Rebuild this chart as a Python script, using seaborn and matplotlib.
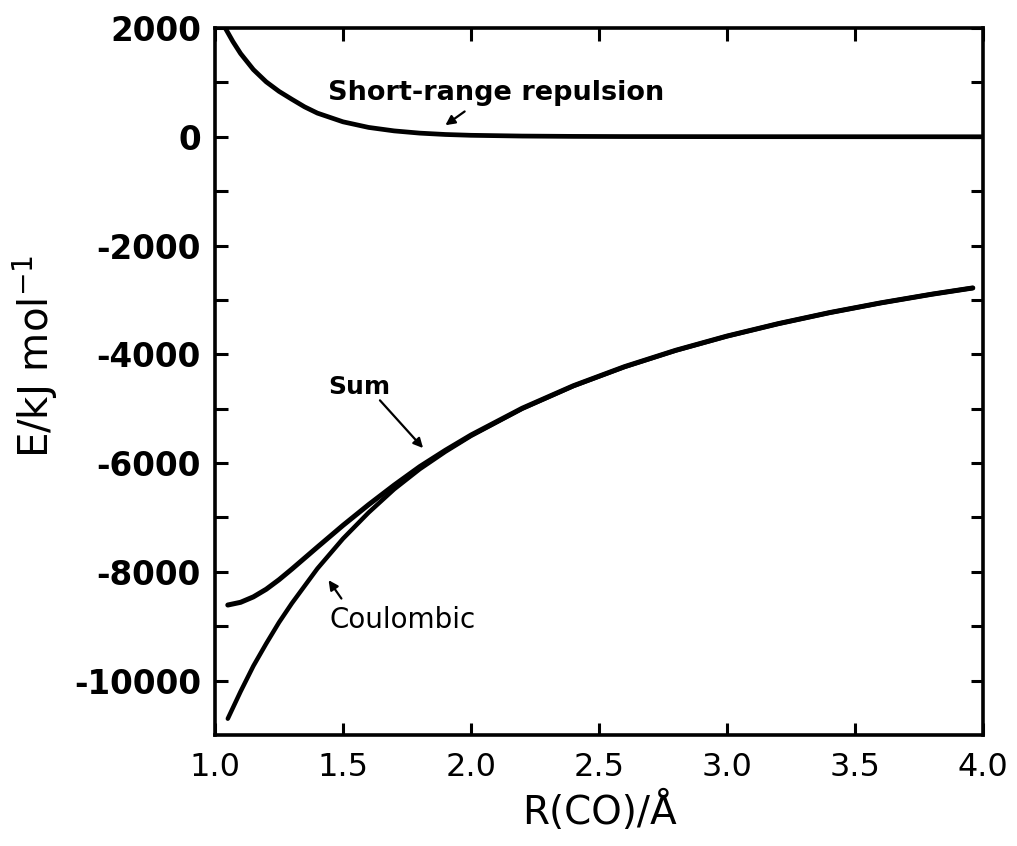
import matplotlib
matplotlib.use("Agg")
import matplotlib.pyplot as plt
import seaborn as sns

# ---- data ----
r_coul = [1.05, 1.10, 1.15, 1.20, 1.25, 1.30, 1.40, 1.50, 1.60, 1.70, 1.80, 1.90,
          2.00, 2.20, 2.40, 2.60, 2.80, 3.00, 3.20, 3.40, 3.60, 3.80, 3.96]
e_coul = [-10700, -10200, -9730, -9320, -8930, -8580, -7940, -7390, -6910, -6480, -6110, -5790,
          -5500, -5000, -4583, -4231, -3929, -3667, -3438, -3235, -3056, -2895, -2780]

r_sum = [1.05, 1.10, 1.15, 1.20, 1.25, 1.30, 1.40, 1.50, 1.60, 1.70, 1.80, 1.90,
         2.00, 2.20, 2.40, 2.60, 2.80, 3.00, 3.20, 3.40, 3.60, 3.80, 3.96]
e_sum = [-8610, -8560, -8460, -8320, -8145, -7950, -7545, -7145, -6765, -6405, -6065, -5765,
         -5485, -4992, -4578, -4227, -3926, -3665, -3437, -3234, -3055, -2895, -2780]

r_rep = [1.04, 1.07, 1.10, 1.15, 1.20, 1.25, 1.30, 1.35, 1.40, 1.50, 1.60, 1.70, 1.80,
         1.90, 2.00, 2.20, 2.40, 2.60, 3.00, 3.50, 4.00]
e_rep = [2000, 1750, 1530, 1235, 1010, 835, 690, 550, 435, 275, 172, 108, 67,
         42, 27, 13, 7, 4, 2, 1, 0]

x_ticks = [1.0, 1.5, 2.0, 2.5, 3.0, 3.5, 4.0]
x_ticklabels = ["1.0", "1.5", "2.0", "2.5", "3.0", "3.5", "4.0"]
y_ticks = [2000, 0, -2000, -4000, -6000, -8000, -10000]
y_ticklabels = ["2000", "0", "-2000", "-4000", "-6000", "-8000", "-10000"]
y_minor = [1000, -1000, -3000, -5000, -7000, -9000]

label_rep = "Short-range repulsion"
label_sum = "Sum"
label_coul = "Coulombic"
x_label = "R(CO)/Å"
y_label = "E/kJ mol$^{-1}$"

# ---- plotting ----
sns.set_theme(style="ticks")
plt.rcParams["font.family"] = ["DejaVu Sans"]
plt.rcParams["text.color"] = "black"
plt.rcParams["axes.labelcolor"] = "black"
plt.rcParams["xtick.color"] = "black"
plt.rcParams["ytick.color"] = "black"
plt.rcParams["xtick.labelcolor"] = "black"
plt.rcParams["ytick.labelcolor"] = "black"
plt.rcParams["mathtext.default"] = "regular"

fig = plt.figure(figsize=(10.17, 8.46), dpi=100)
ax = fig.add_axes([0.2114, 0.1312, 0.7552, 0.8357])

line_kw = dict(color="black", sort=False, solid_joinstyle="round", solid_capstyle="round")
sns.lineplot(x=r_rep, y=e_rep, ax=ax, linewidth=3.4, **line_kw)
sns.lineplot(x=r_coul, y=e_coul, ax=ax, linewidth=3.2, **line_kw)
sns.lineplot(x=r_sum, y=e_sum, ax=ax, linewidth=3.6, **line_kw)

ax.set_xlim(1.0, 4.0)
ax.set_ylim(-11000, 2000)

ax.set_xticks(x_ticks)
ax.set_xticklabels(x_ticklabels)
ax.set_yticks(y_ticks)
ax.set_yticklabels(y_ticklabels)
ax.set_yticks(y_minor, minor=True)

ax.tick_params(axis="both", which="both", direction="in", length=9, width=2.2,
               top=True, right=True, color="black")
ax.tick_params(axis="x", which="major", labelsize=23, pad=12)
ax.tick_params(axis="y", which="major", labelsize=23.5, pad=10)
for t in ax.get_yticklabels():
    t.set_fontweight("bold")

for s in ax.spines.values():
    s.set_visible(True)
    s.set_linewidth(2.6)
    s.set_color("black")

ax.set_xlabel(x_label, fontsize=28, labelpad=6)
ax.set_ylabel(y_label, fontsize=29)
ax.yaxis.set_label_coords(-0.2015, 0.535)

ax.text(2.10, 807, label_rep, fontsize=19.5, fontweight="bold", ha="center", va="center")
ax.text(1.5625, -4606, label_sum, fontsize=18, fontweight="bold", ha="center", va="center")
ax.text(1.734, -8881, label_coul, fontsize=20, ha="center", va="center")

arrow = dict(arrowstyle="-|>", color="black", lw=1.6, mutation_scale=14)
ax.annotate("", xy=(1.891, 183), xytext=(1.984, 495), arrowprops=arrow)
ax.annotate("", xy=(1.820, -5762), xytext=(1.637, -4808), arrowprops=arrow)
ax.annotate("", xy=(1.4375, -8111), xytext=(1.50, -8533), arrowprops=arrow)

fig.savefig("out.png", dpi=100, facecolor="white")
